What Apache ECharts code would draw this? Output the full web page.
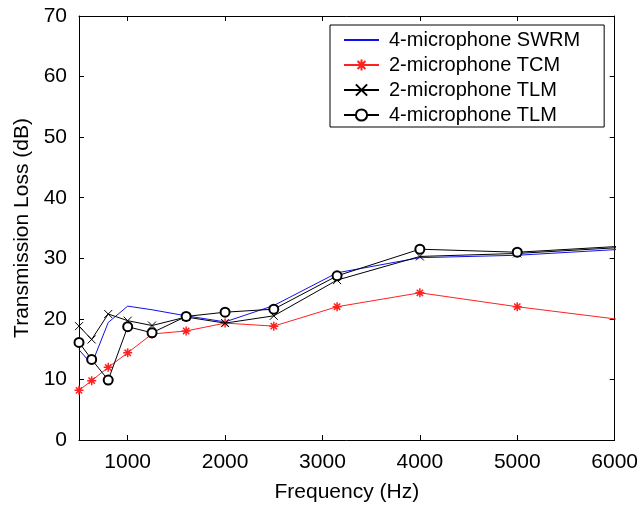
<!DOCTYPE html>
<html>
<head>
<meta charset="utf-8">
<script src="https://cdn.jsdelivr.net/npm/echarts@6/dist/echarts.min.js"></script>
<style>
html,body{margin:0;padding:0;background:#fff;}
#c{width:641px;height:510px;}
</style>
</head>
<body>
<div id="c"></div>
<script>
const frequencies = [500, 630, 800, 1000, 1250, 1600, 2000, 2500, 3150, 4000, 5000, 6300];
const swrm4 = [14.9, 12.5, 19.4, 22.1, 21.5, 20.5, 19.5, 22.2, 27.6, 30.1, 30.5, 31.7];
const tcm2  = [8.2, 9.8, 12.0, 14.4, 17.5, 18.0, 19.3, 18.8, 22.0, 24.3, 22.0, 19.4];
const tlm2  = [18.8, 16.6, 20.8, 19.7, 18.9, 20.3, 19.3, 20.5, 26.4, 30.3, 30.8, 32.0];
const tlm4  = [16.1, 13.3, 9.9, 18.7, 17.7, 20.4, 21.1, 21.6, 27.1, 31.5, 31.0, 32.2];
const xTicks = [1000, 2000, 3000, 4000, 5000, 6000];
const seriesNames = ['4-microphone SWRM', '2-microphone TCM', '2-microphone TLM', '4-microphone TLM'];

const FONT = '"Liberation Sans", Arial, Helvetica, sans-serif';
const pair = (ys) => frequencies.map((f, i) => [f, ys[i]]);
const ASTER = 'path://M0,5 L10,5 M5,0 L5,10 M1.5,1.5 L8.5,8.5 M1.5,8.5 L8.5,1.5';
const CROSS = 'path://M0,0 L10,10 M0,10 L10,0';

const xCommon = {
  type: 'value', min: 500, max: 6000,
  axisLine: { show: true, onZero: false, lineStyle: { color: '#000', width: 1 } },
  axisTick: { show: true, inside: true, length: 5, customValues: xTicks, lineStyle: { color: '#000' } },
  splitLine: { show: false }
};
const yCommon = {
  type: 'value', min: 0, max: 70, interval: 10,
  axisLine: { show: true, onZero: false, lineStyle: { color: '#000', width: 1 } },
  axisTick: { show: true, inside: true, length: 5, lineStyle: { color: '#000' } },
  splitLine: { show: false }
};

const chart = echarts.init(document.getElementById('c'), null, { renderer: 'canvas' });
chart.setOption({
  animation: false,
  backgroundColor: '#fff',
  textStyle: { fontFamily: FONT },
  grid: { left: 79, right: 26, top: 16, bottom: 70, containLabel: false },
  legend: {
    orient: 'vertical', left: 330, top: 25,
    padding: [5, 24, 2, 13],
    itemWidth: 35, itemHeight: 14, itemGap: 5,
    backgroundColor: '#fff', borderColor: '#000', borderWidth: 1,
    textStyle: { fontFamily: FONT, fontSize: 20, color: '#000', lineHeight: 19.5, padding: [0, 0, 0, 5] },
    data: [
      { name: seriesNames[0], itemStyle: { opacity: 0 } },
      seriesNames[1], seriesNames[2], seriesNames[3]
    ]
  },
  xAxis: [
    Object.assign({}, xCommon, {
      position: 'bottom',
      name: 'Frequency (Hz)', nameLocation: 'middle', nameGap: 42,
      nameTextStyle: { fontFamily: FONT, fontSize: 21, color: '#000' },
      axisLabel: { show: true, customValues: xTicks, margin: 12, fontFamily: FONT, fontSize: 21, color: '#000',
        formatter: (v) => String(v) }
    }),
    Object.assign({}, xCommon, { position: 'top', axisLabel: { show: false } })
  ],
  yAxis: [
    Object.assign({}, yCommon, {
      position: 'left',
      name: 'Transmission Loss (dB)', nameLocation: 'middle', nameGap: 46,
      nameTextStyle: { fontFamily: FONT, fontSize: 21, color: '#000' },
      axisLabel: { show: true, margin: 12, fontFamily: FONT, fontSize: 21, color: '#000' }
    }),
    Object.assign({}, yCommon, { position: 'right', axisLabel: { show: false } })
  ],
  series: [
    {
      name: seriesNames[0], type: 'line', data: pair(swrm4), symbol: 'none',
      lineStyle: { color: '#1010ee', width: 1 }, itemStyle: { color: '#1010ee' }, z: 2
    },
    {
      name: seriesNames[1], type: 'line', data: pair(tcm2), symbol: ASTER, symbolSize: 9,
      lineStyle: { color: '#ff2020', width: 1 },
      itemStyle: { color: '#ff2020', borderColor: '#ff2020', borderWidth: 1.5 }, z: 3
    },
    {
      name: seriesNames[2], type: 'line', data: pair(tlm2), symbol: CROSS, symbolSize: 8,
      lineStyle: { color: '#000', width: 1 },
      itemStyle: { color: '#000', borderColor: '#000', borderWidth: 1 }, z: 4
    },
    {
      name: seriesNames[3], type: 'line', data: pair(tlm4), symbol: 'emptyCircle', symbolSize: 9,
      lineStyle: { color: '#000', width: 1 },
      itemStyle: { color: '#000', borderColor: '#000', borderWidth: 1 }, z: 5
    }
  ]
});
</script>
</body>
</html>
